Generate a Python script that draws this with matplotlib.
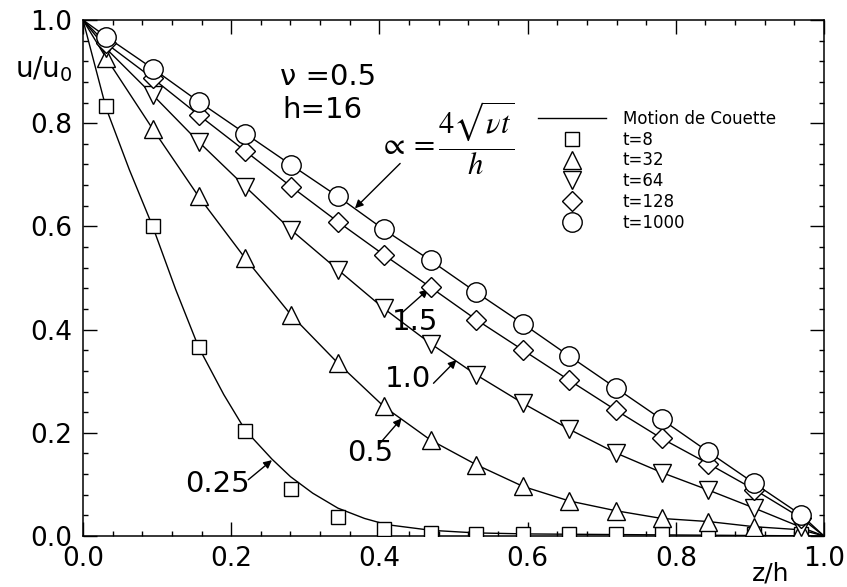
#!/usr/bin/env python3
"""Couette flow start-up: velocity profiles u/u0 against z/h."""

import matplotlib
matplotlib.use("Agg")
import matplotlib.pyplot as plt
from matplotlib.lines import Line2D
from matplotlib.ticker import MultipleLocator

# sample positions (cell centres, h=16)
Z_PTS = [0.031, 0.094, 0.156, 0.219, 0.281, 0.344, 0.406, 0.469,
         0.531, 0.594, 0.656, 0.719, 0.781, 0.844, 0.906, 0.969]

# simulated values
U_T8 = [0.834, 0.601, 0.366, 0.204, 0.092, 0.036, 0.013, 0.005,
        0.004, 0.004, 0.004, 0.004, 0.004, 0.004, 0.003, 0.003]
U_T32 = [0.927, 0.789, 0.658, 0.538, 0.428, 0.335, 0.251, 0.186,
         0.138, 0.096, 0.068, 0.049, 0.034, 0.028, 0.018, 0.012]
U_T64 = [0.945, 0.855, 0.764, 0.677, 0.593, 0.516, 0.441, 0.373,
         0.312, 0.257, 0.207, 0.161, 0.123, 0.089, 0.054, 0.017]
U_T128 = [0.955, 0.887, 0.816, 0.746, 0.677, 0.609, 0.545, 0.482,
          0.419, 0.360, 0.302, 0.244, 0.189, 0.140, 0.090, 0.035]
U_T1000 = [0.968, 0.906, 0.842, 0.780, 0.719, 0.658, 0.594, 0.534,
           0.472, 0.411, 0.349, 0.287, 0.226, 0.163, 0.102, 0.041]

# analytic curves (labelled by 4*sqrt(nu t)/h)
CURVE_025_Z = [0.0, 0.031, 0.0625, 0.094, 0.125, 0.156, 0.19, 0.219, 0.255,
               0.28, 0.31, 0.344, 0.38, 0.41, 0.47, 0.53, 0.6, 0.7, 1.0]
CURVE_025_U = [1.0, 0.83, 0.71, 0.60, 0.478, 0.366, 0.274, 0.205, 0.149,
               0.115, 0.083, 0.054, 0.034, 0.022, 0.011, 0.006, 0.004, 0.003, 0.0]
CURVE_Z = [0.0] + Z_PTS + [1.0]
CURVE_05_U = [1.0] + U_T32 + [0.0]
CURVE_10_U = [1.0] + U_T64 + [0.0]
CURVE_15_U = [1.0] + U_T128 + [0.0]
CURVE_INF_U = [1.0] + U_T1000 + [0.0]

SERIES = [
    ("t=8", U_T8, "s", 10.5),
    ("t=32", U_T32, "^", 13),
    ("t=64", U_T64, "v", 13),
    ("t=128", U_T128, "D", 10),
    ("t=1000", U_T1000, "o", 14),
]

fig = plt.figure(figsize=(8.47, 5.87), dpi=100)
ax = fig.add_axes([83 / 847, 51 / 587, 741 / 847, 516 / 587])

ax.plot(CURVE_025_Z, CURVE_025_U, color="black", lw=1.0, zorder=2)
for u in (CURVE_05_U, CURVE_10_U, CURVE_15_U, CURVE_INF_U):
    ax.plot(CURVE_Z, u, color="black", lw=1.0, zorder=2)

handles = [Line2D([], [], color="black", lw=1.0)]
labels = ["Motion de Couette"]
for i, (name, vals, mk, ms) in enumerate(SERIES):
    ax.plot(Z_PTS, vals, ls="none", marker=mk, ms=ms, mfc="white",
            mec="black", mew=1.0, zorder=3 + i)
    handles.append(Line2D([], [], ls="none", marker=mk, ms=ms, mfc="white",
                          mec="black", mew=1.0))
    labels.append(name)

ax.legend(handles, labels, loc="upper left", bbox_to_anchor=(0.614, 0.826),
          bbox_transform=ax.transData, frameon=False, fontsize=12,
          borderpad=0, handlelength=4.1, handletextpad=1.0, labelspacing=0.17,
          borderaxespad=0)

ax.set_xlim(0, 1)
ax.set_ylim(0, 1)
ax.xaxis.set_major_locator(MultipleLocator(0.2))
ax.yaxis.set_major_locator(MultipleLocator(0.2))
ax.xaxis.set_minor_locator(MultipleLocator(0.04))
ax.yaxis.set_minor_locator(MultipleLocator(0.04))
ax.xaxis.set_major_formatter(lambda v, p: f"{v:.1f}")
ax.yaxis.set_major_formatter(lambda v, p: f"{v:.1f}")
ax.tick_params(which="both", direction="in", top=True, right=True, width=1.0)
ax.tick_params(which="major", length=10, labelsize=19)
ax.tick_params(which="minor", length=3.5)
ax.tick_params(axis="x", which="major", pad=7)
ax.tick_params(axis="y", which="major", pad=8)
for sp in ax.spines.values():
    sp.set_linewidth(1.1)

ax.text(-0.053, 0.905, "u/u$_0$", fontsize=20, ha="center", va="center",
        clip_on=False)
ax.text(0.928, -0.072, "z/h", fontsize=18, ha="center", va="center",
        clip_on=False)

ax.text(0.266, 0.890, "ν =0.5", fontsize=21, ha="left", va="center")
ax.text(0.269, 0.826, "h=16", fontsize=21, ha="left", va="center")
ax.text(0.400, 0.770, r"$\propto = \dfrac{4\sqrt{\nu t}}{h}$", fontsize=22,
        ha="left", va="center", math_fontfamily="stix")

arrow = dict(arrowstyle="-|>", color="black", lw=1.0, mutation_scale=12,
             shrinkA=0, shrinkB=0)
ax.annotate("", xy=(0.367, 0.635), xytext=(0.428, 0.722), arrowprops=arrow)
ax.annotate("", xy=(0.466, 0.478), xytext=(0.430, 0.432), arrowprops=arrow)
ax.annotate("", xy=(0.504, 0.341), xytext=(0.473, 0.296), arrowprops=arrow)
ax.annotate("", xy=(0.430, 0.228), xytext=(0.401, 0.180), arrowprops=arrow)
ax.annotate("", xy=(0.255, 0.147), xytext=(0.223, 0.109), arrowprops=arrow)

ax.text(0.448, 0.415, "1.5", fontsize=21, ha="center", va="center")
ax.text(0.438, 0.305, "1.0", fontsize=21, ha="center", va="center")
ax.text(0.388, 0.160, "0.5", fontsize=21, ha="center", va="center")
ax.text(0.1815, 0.100, "0.25", fontsize=21, ha="center", va="center")

fig.savefig("out.png", dpi=100)
